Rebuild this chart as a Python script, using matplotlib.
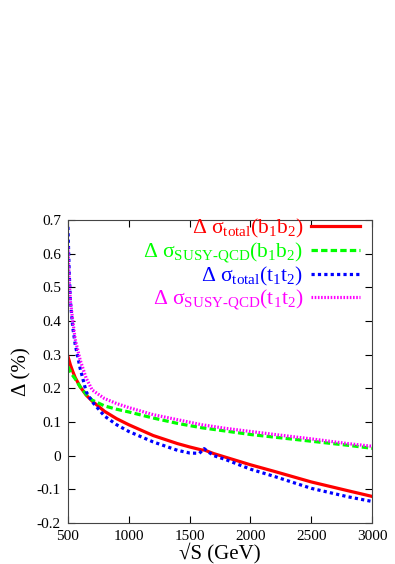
import matplotlib
matplotlib.use("Agg")
import matplotlib.pyplot as plt

plt.rcParams['font.family'] = 'serif'
plt.rcParams['font.serif'] = ['Liberation Serif', 'Times New Roman', 'Nimbus Roman', 'DejaVu Serif']
plt.rcParams['mathtext.fontset'] = 'custom'
plt.rcParams['mathtext.rm'] = 'serif'
plt.rcParams['mathtext.it'] = 'serif:italic'

# data
x_red = [500, 520, 540, 560, 600, 650, 700, 800, 900, 1000, 1200, 1400, 1500,
         1600, 1620, 1700, 1800, 2000, 2200, 2500, 2800, 3000]
y_red = [0.295, 0.27, 0.25, 0.232, 0.205, 0.18, 0.162, 0.132, 0.11, 0.092, 0.06,
         0.036, 0.026, 0.017, 0.017, 0.006, -0.005, -0.027, -0.047, -0.078, -0.104, -0.121]

x_green = [500, 520, 540, 560, 600, 650, 700, 800, 900, 1000, 1200, 1400, 1600,
           1800, 2000, 2200, 2500, 2800, 3000]
y_green = [0.265, 0.25, 0.238, 0.228, 0.205, 0.182, 0.165, 0.148, 0.138, 0.13, 0.112,
           0.096, 0.083, 0.073, 0.063, 0.055, 0.043, 0.031, 0.022]

x_blue = [500, 510, 520, 540, 560, 600, 650, 700, 800, 900, 1000, 1200, 1400, 1500,
          1580, 1620, 1650, 1700, 1800, 2000, 2200, 2500, 2800, 3000]
y_blue = [0.68, 0.55, 0.46, 0.38, 0.33, 0.26, 0.19, 0.16, 0.118, 0.092, 0.072, 0.041,
          0.016, 0.008, 0.007, 0.021, 0.012, 0.0, -0.012, -0.04, -0.062, -0.097, -0.122, -0.136]

x_mag = [500, 510, 520, 540, 560, 600, 650, 700, 800, 900, 1000, 1200, 1400, 1600,
         1800, 2000, 2200, 2500, 2800, 3000]
y_mag = [0.62, 0.52, 0.46, 0.40, 0.345, 0.285, 0.23, 0.195, 0.17, 0.155, 0.143, 0.122,
         0.107, 0.092, 0.081, 0.072, 0.063, 0.05, 0.036, 0.028]

labels = ['Δ σ$_{\\rm total}$(b$_1$b$_2$)',
          'Δ σ$_{\\rm SUSY\\text{-}QCD}$(b$_1$b$_2$)',
          'Δ σ$_{\\rm total}$(t$_1$t$_2$)',
          'Δ σ$_{\\rm SUSY\\text{-}QCD}$(t$_1$t$_2$)']

fig = plt.figure(figsize=(3.95, 5.64), dpi=100)
ax = fig.add_axes([0.172, 0.0727, 0.770, 0.537])

ax.plot(x_red, y_red, color='#ff0000', lw=2.3, ls='-', label=labels[0])
ax.plot(x_green, y_green, color='#00ff00', lw=2.3, ls=(0, (2, 1)), label=labels[1])
ax.plot(x_blue, y_blue, color='#0000ff', lw=2.3, ls=(0, (1, 1)), label=labels[2])
ax.plot(x_mag, y_mag, color='#ff00ff', lw=2.3, ls=(0, (0.5, 0.5)), label=labels[3])

ax.set_xlim(500, 3000)
ax.set_ylim(-0.2, 0.7)
ax.set_xticks([500, 1000, 1500, 2000, 2500, 3000])
ax.set_yticks([-0.2, -0.1, 0, 0.1, 0.2, 0.3, 0.4, 0.5, 0.6, 0.7])
ax.set_yticklabels(['-0.2', '-0.1', '0', '0.1', '0.2', '0.3', '0.4', '0.5', '0.6', '0.7'])
ax.tick_params(direction='in', top=True, right=True, labelsize=11, length=5, pad=5)
for s in ax.spines.values():
    s.set_linewidth(0.8)
    s.set_color('#444444')

ax.set_xlabel('√S (GeV)', fontsize=15, labelpad=0)
ax.set_ylabel('Δ (%)', fontsize=15, labelpad=4)

leg = ax.legend(loc='upper right', bbox_to_anchor=(0.99, 1.04), frameon=False,
                markerfirst=False, labelcolor='linecolor', fontsize=15.5,
                handlelength=2.3, borderaxespad=0.0, labelspacing=0.0,
                handletextpad=0.35)

fig.savefig('out.png', dpi=100)
